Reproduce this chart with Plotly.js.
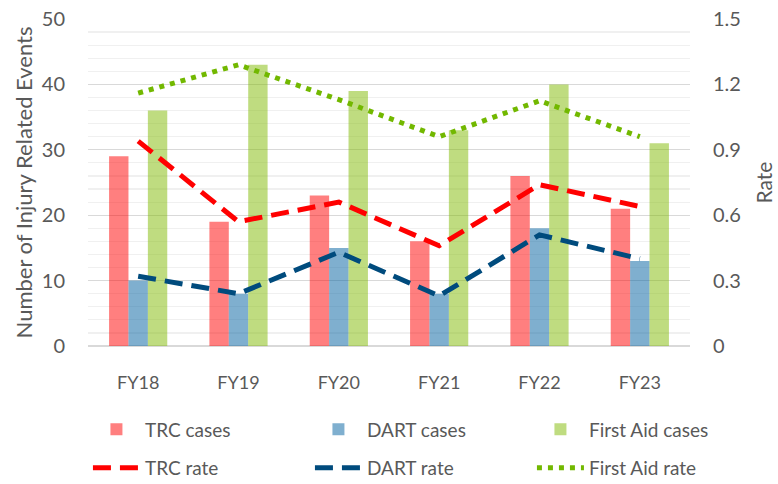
<!DOCTYPE html>
<html>
<head>
<meta charset="utf-8">
<script src="https://cdn.plot.ly/plotly-3.0.1.min.js"></script>
<style>html,body{margin:0;padding:0;background:#fff}#chart{width:778px;height:484px}</style>
</head>
<body>
<div id="chart"></div>
<script>
const years = ["FY18", "FY19", "FY20", "FY21", "FY22", "FY23"];
const trcCases = [29, 19, 23, 16, 26, 21];
const dartCases = [10, 8, 15, 8, 18, 13];
const firstAidCases = [36, 43, 39, 33, 40, 31];
const trcRate = [0.94, 0.57, 0.66, 0.46, 0.74, 0.64];
const dartRate = [0.32, 0.24, 0.43, 0.23, 0.51, 0.40];
const firstAidRate = [1.16, 1.29, 1.13, 0.96, 1.125, 0.96];

const FONT = "Lato, 'Noto Sans', sans-serif";
const GREY = "#595959";

const traces = [
  {type: "bar", name: "TRC cases", x: years, y: trcCases, marker: {color: "rgba(255,0,0,0.5)"}, legend: "legend"},
  {type: "bar", name: "DART cases", x: years, y: dartCases, marker: {color: "rgba(0,95,159,0.5)"}, legend: "legend"},
  {type: "bar", name: "First Aid cases", x: years, y: firstAidCases, marker: {color: "rgba(127,185,1,0.5)"}, legend: "legend"},
  {type: "scatter", mode: "lines", name: "TRC rate", x: years, y: trcRate, yaxis: "y2",
   line: {color: "#FF0000", width: 5, dash: "18px,9px"}, legend: "legend2"},
  {type: "scatter", mode: "lines", name: "DART rate", x: years, y: dartRate, yaxis: "y2",
   line: {color: "#004B7D", width: 5, dash: "18px,9px"}, legend: "legend2"},
  {type: "scatter", mode: "lines", name: "First Aid rate", x: years, y: firstAidRate, yaxis: "y2",
   line: {color: "#72B800", width: 5, dash: "5px,6px"}, legend: "legend2"}
];

const legendCommon = {
  orientation: "h", xanchor: "left", yanchor: "top", xref: "paper", yref: "paper",
  entrywidth: 160, entrywidthmode: "pixels", itemwidth: 47,
  font: {family: FONT, size: 19, color: GREY}, bgcolor: "rgba(0,0,0,0)"
};

const layout = {
  width: 778, height: 484,
  margin: {l: 88, r: 88, t: 19, b: 138, autoexpand: false},
  paper_bgcolor: "#fff", plot_bgcolor: "#fff",
  font: {family: FONT, color: GREY},
  barmode: "group", bargap: 0.42, bargroupgap: 0,
  showlegend: true,
  legend: Object.assign({}, legendCommon, {x: -0.0001, y: -0.197}),
  legend2: Object.assign({}, legendCommon, {x: -0.0001, y: -0.315}),
  xaxis: {
    type: "category", showgrid: false, zeroline: false, showline: false,
    ticks: "outside", ticklen: 20, tickcolor: "rgba(0,0,0,0)",
    tickfont: {family: FONT, size: 18, color: GREY}
  },
  yaxis: {
    range: [0, 50], dtick: 10, showline: false, zeroline: true, zerolinecolor: "#D9D9D9", zerolinewidth: 1.5,
    gridcolor: "#D9D9D9", gridwidth: 1.2,
    minor: {dtick: 2, showgrid: true, gridcolor: "#F0F0F0", gridwidth: 1.2},
    ticks: "outside", ticklen: 18, tickcolor: "rgba(0,0,0,0)",
    tickfont: {family: FONT, size: 20, color: GREY},
    title: {text: "Number of Injury Related Events", font: {family: FONT, size: 22, color: GREY}, standoff: 3}
  },
  yaxis2: {
    range: [0, 1.5], dtick: 0.3, overlaying: "y", side: "right", showgrid: false, zeroline: false, showline: false,
    ticks: "outside", ticklen: 18, tickcolor: "rgba(0,0,0,0)",
    tickfont: {family: FONT, size: 20, color: GREY},
    title: {text: "Rate", font: {family: FONT, size: 21, color: GREY}, standoff: 17}
  }
};

Plotly.newPlot("chart", traces, layout, {displayModeBar: false, staticPlot: true});
</script>
</body>
</html>
